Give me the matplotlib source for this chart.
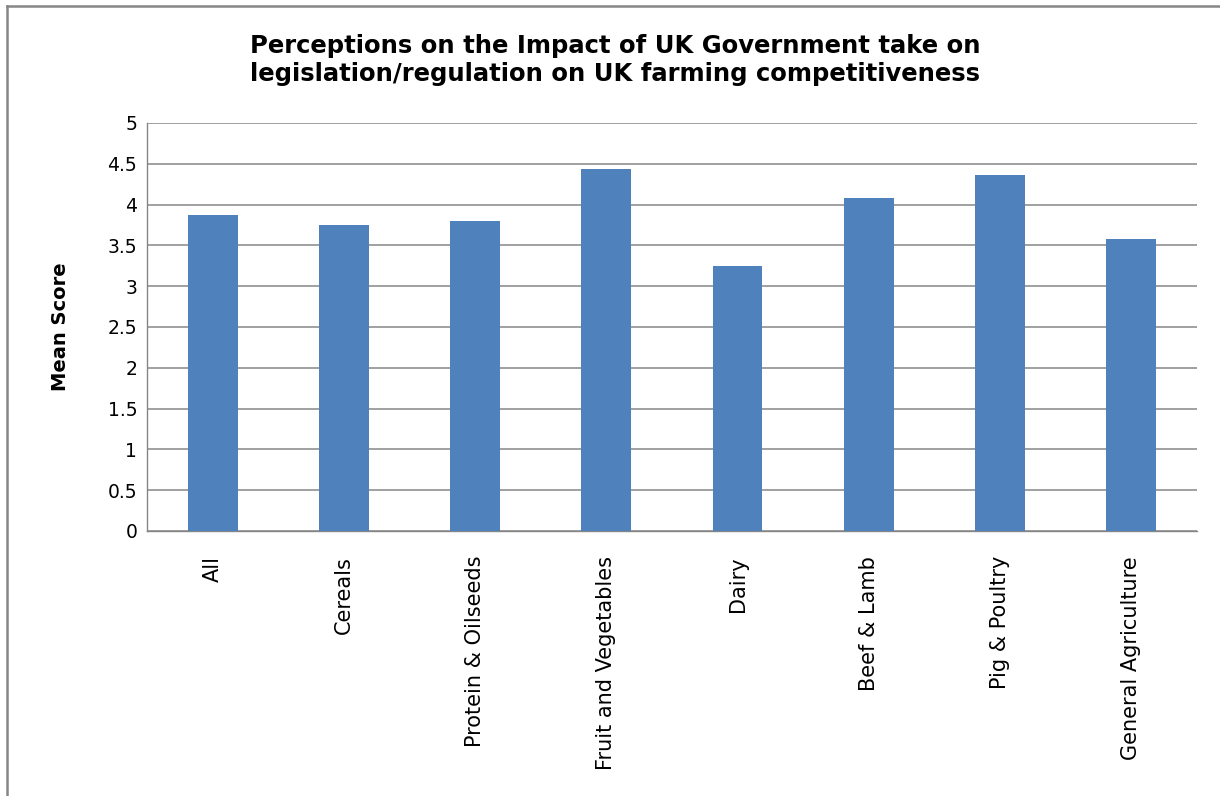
import matplotlib.pyplot as plt
from matplotlib.lines import Line2D
import numpy as np

# data
categories = ['All', 'Cereals', 'Protein & Oilseeds', 'Fruit and Vegetables',
              'Dairy', 'Beef & Lamb', 'Pig & Poultry', 'General Agriculture']
mean_scores = [3.87, 3.75, 3.80, 4.43, 3.25, 4.08, 4.36, 3.58]
y_ticks = [0, 0.5, 1, 1.5, 2, 2.5, 3, 3.5, 4, 4.5, 5]
y_tick_labels = ['0', '0.5', '1', '1.5', '2', '2.5', '3', '3.5', '4', '4.5', '5']

grid_col = '#868686'
bar_col = '#4F81BD'

fig = plt.figure(figsize=(12.2, 7.96), dpi=100)
ax = fig.add_axes([0.1205, 0.333, 0.8605, 0.5125])

x = np.arange(len(categories))
ax.bar(x, mean_scores, width=0.38, color=bar_col, zorder=3)

ax.set_xlim(-0.5, len(categories) - 0.5)
ax.set_ylim(0, 5)
ax.set_yticks(y_ticks)
ax.set_yticklabels(y_tick_labels, fontsize=13.5, family='DejaVu Sans')
ax.set_xticks(x)
ax.set_xticklabels(categories, rotation=90, fontsize=15, family='DejaVu Sans',
                   va='top', ha='center')
ax.tick_params(axis='y', length=0, pad=7)
ax.tick_params(axis='x', length=0, pad=18)

ax.grid(axis='y', color=grid_col, linewidth=1.1, zorder=0)
for side in ['top', 'right']:
    ax.spines[side].set_visible(False)
ax.spines['left'].set_color(grid_col)
ax.spines['bottom'].set_color(grid_col)
ax.spines['left'].set_linewidth(1.0)
ax.spines['bottom'].set_linewidth(1.0)

ax.set_ylabel('Mean Score', fontsize=14, fontweight='bold', family='DejaVu Sans')
ax.yaxis.set_label_coords(-0.073, 0.5)

fig.text(0.504, 0.925, 'Perceptions on the Impact of UK Government take on\n'
         'legislation/regulation on UK farming competitiveness',
         ha='center', va='center', fontsize=17.5, fontweight='bold',
         family='DejaVu Sans', linespacing=1.22)

# outer chart border (cropped: only top and left visible)
fig.add_artist(Line2D([7 / 1220, 1.0], [1 - 6 / 796, 1 - 6 / 796],
                      transform=fig.transFigure, color=grid_col, linewidth=1.8))
fig.add_artist(Line2D([7 / 1220, 7 / 1220], [0.0, 1 - 6 / 796],
                      transform=fig.transFigure, color=grid_col, linewidth=1.8))

fig.savefig('out.png', dpi=100)
